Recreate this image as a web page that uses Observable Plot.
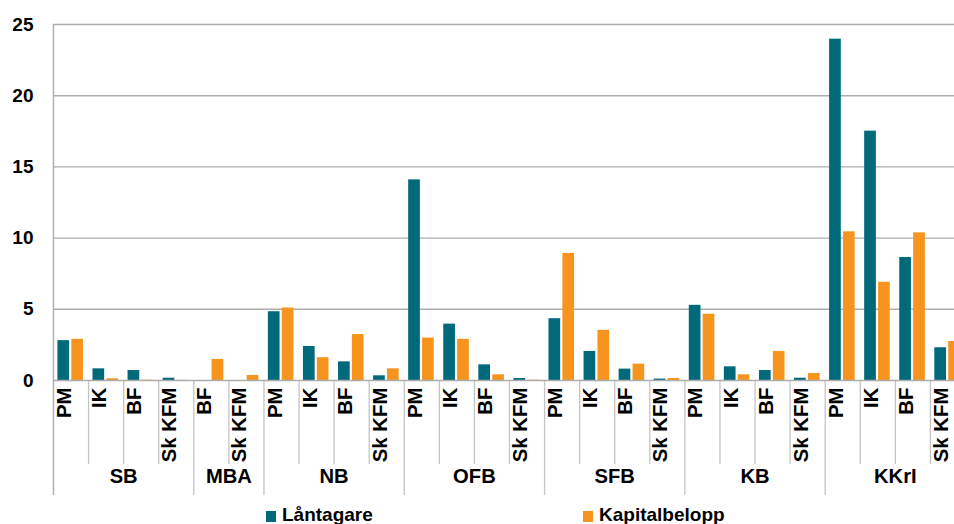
<!DOCTYPE html>
<html>
<head>
<meta charset="utf-8">
<script src="https://cdn.jsdelivr.net/npm/d3@7"></script>
<script src="https://cdn.jsdelivr.net/npm/@observablehq/plot@0.6"></script>
<style>
  html, body { margin: 0; padding: 0; background: #fff; overflow: hidden; }
  #wrap { width: 954px; overflow: hidden; }
  .legend { position: relative; width: 954px; height: 24px; font: bold 19px "Liberation Sans", Arial, sans-serif; color: #000; }
  .legend .item { position: absolute; top: 5px; line-height: 19px; white-space: nowrap; }
  .legend .sw { display: inline-block; width: 10px; height: 11px; margin-right: 6px; vertical-align: -1px; }
</style>
</head>
<body>
<div id="wrap"></div>
<script>
// ---- data ----
const groups = ["SB", "MBA", "NB", "OFB", "SFB", "KB", "KKrI"];
const groupSubs = [
  ["PM", "IK", "BF", "Sk KFM"],
  ["BF", "Sk KFM"],
  ["PM", "IK", "BF", "Sk KFM"],
  ["PM", "IK", "BF", "Sk KFM"],
  ["PM", "IK", "BF", "Sk KFM"],
  ["PM", "IK", "BF", "Sk KFM"],
  ["PM", "IK", "BF", "Sk KFM"]
];
const seriesNames = ["Låntagare", "Kapitalbelopp"];
const lantagare = [
  2.8, 0.82, 0.7, 0.16,
  0, 0,
  4.83, 2.39, 1.31, 0.33,
  14.09, 3.96, 1.1, 0.14,
  4.34, 2.04, 0.8, 0.1,
  5.28, 0.96, 0.7, 0.16,
  23.97, 17.51, 8.64, 2.3
];
const kapitalbelopp = [
  2.89, 0.12, 0.02, 0.01,
  1.48, 0.35,
  5.09, 1.6, 3.23, 0.82,
  2.98, 2.89, 0.4, 0.02,
  8.92, 3.52, 1.15, 0.14,
  4.65, 0.4, 2.04, 0.49,
  10.44, 6.9, 10.37, 2.74
];
const yTicks = [0, 5, 10, 15, 20, 25];
const colors = ["#006A7A", "#F7941E"];

// ---- build tables ----
const cats = [];
groups.forEach((g, gi) => {
  groupSubs[gi].forEach((s, si) => {
    cats.push({key: String(cats.length), group: g, sub: s, first: si === 0});
  });
});
const keys = cats.map(d => d.key);
const barsL = cats.map((c, i) => ({key: c.key, value: lantagare[i]}));
const barsK = cats.map((c, i) => ({key: c.key, value: kapitalbelopp[i]}));
const groupLabels = [];
{
  let idx = 0;
  groups.forEach((g, gi) => {
    const n = groupSubs[gi].length;
    groupLabels.push({key: String(idx + n / 2 - 1), group: g});
    idx += n;
  });
}

// ---- layout ----
const W = 965, H = 500, mL = 53, mR = 0, mT = 24, mB = 120;
const step = (W - mL - mR) / keys.length;
const font = '"Liberation Sans", Arial, sans-serif';

const chart = Plot.plot({
  width: W,
  height: H,
  marginLeft: mL,
  marginRight: mR,
  marginTop: mT,
  marginBottom: mB,
  style: {maxWidth: "none", fontFamily: font, background: "#fff", overflow: "hidden"},
  x: {domain: keys, padding: 0, round: false, axis: null},
  y: {domain: [0, 25], axis: null},
  marks: [
    Plot.ruleY(yTicks.filter(d => d > 0), {stroke: "#adadad", strokeWidth: 1.4}),
    Plot.barY(barsL, {x: "key", y: "value", fill: colors[0], insetLeft: 4.4, insetRight: step - 16.1}),
    Plot.barY(barsK, {x: "key", y: "value", fill: colors[1], insetLeft: 18.3, insetRight: 5.1}),
    // subcategory separators
    Plot.ruleX(cats.filter(d => !d.first), {x: "key", y1: 0, y2: 0, dx: -step / 2, stroke: "#c4c4c4", strokeWidth: 1.3, insetBottom: -84}),
    // group separators
    Plot.ruleX(cats.filter(d => d.first && d.key !== "0"), {x: "key", y1: 0, y2: 0, dx: -step / 2, stroke: "#c4c4c4", strokeWidth: 1.3, insetBottom: -115}),
    // left axis line
    Plot.ruleX(cats.slice(0, 1), {x: "key", y1: 25, y2: 0, dx: -step / 2, stroke: "#adadad", strokeWidth: 1.4, insetBottom: -115}),
    Plot.ruleY([0], {stroke: "#adadad", strokeWidth: 1.4}),
    // y tick labels
    Plot.text(yTicks, {y: d => d, frameAnchor: "left", text: d => String(d), textAnchor: "end", dx: -20, fontSize: 19, fontWeight: "bold", fill: "#000"}),
    // subcategory labels
    Plot.text(cats, {x: "key", frameAnchor: "bottom", text: "sub", rotate: -90, textAnchor: "end", dy: 7, fontSize: 20.4, fontWeight: "bold", fill: "#000"}),
    // group labels
    Plot.text(groupLabels, {x: "key", frameAnchor: "bottom", text: "group", dx: step / 2, dy: 102.5, fontSize: 20.2, fontWeight: "bold", fill: "#000"})
  ]
});
const wrap = document.getElementById("wrap");
wrap.appendChild(chart);

// ---- legend ----
const legend = document.createElement("div");
legend.className = "legend";
const legendPos = [266, 583];
seriesNames.forEach((name, i) => {
  const item = document.createElement("span");
  item.className = "item";
  item.style.left = legendPos[i] + "px";
  const sw = document.createElement("span");
  sw.className = "sw";
  sw.style.background = colors[i];
  item.appendChild(sw);
  item.appendChild(document.createTextNode(name));
  legend.appendChild(item);
});
wrap.appendChild(legend);
</script>
</body>
</html>
